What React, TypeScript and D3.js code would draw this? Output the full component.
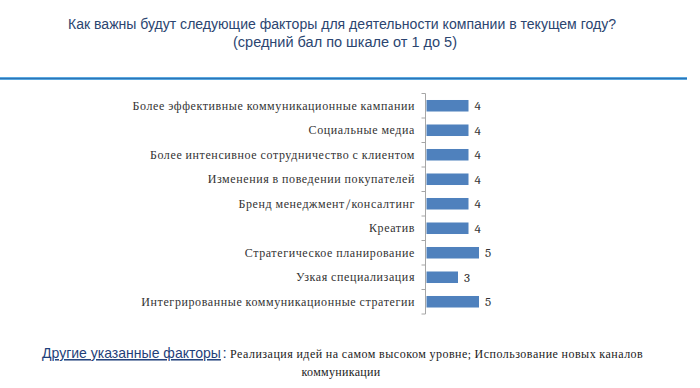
import React from "react";
import * as d3 from "d3";

const categories = [
  "Более эффективные коммуникационные кампании",
  "Социальные медиа",
  "Более интенсивное сотрудничество с клиентом",
  "Изменения в поведении покупателей",
  "Бренд менеджмент/консалтинг",
  "Креатив",
  "Стратегическое планирование",
  "Узкая специализация",
  "Интегрированные коммуникационные стратегии",
];
const values = [4, 4, 4, 4, 4, 4, 5, 3, 5];
const titleLines = [
  "Как важны будут следующие факторы для деятельности компании в текущем году?",
  "(средний бал по шкале от 1 до 5)",
];
const footnoteLead = "Другие указанные факторы";
const footnoteLines = [
  "Реализация идей на самом высоком уровне; Использование новых каналов",
  "коммуникации",
];

const W = 700;
const H = 388;
const axisX = 425.5;
const SERIF = "Cambria, 'Liberation Serif', 'DejaVu Serif', serif";
const NARROW = "'Liberation Sans', Arial, sans-serif";

export default function App() {
  const y = d3.scaleBand<string>().domain(categories).range([93.5, 314]).paddingInner(0.53).paddingOuter(0.265);
  const x = d3.scaleLinear().domain([0, 5]).range([axisX + 1, axisX + 1 + 52.5]);
  const step = y.step();
  const boundaries = d3.range(categories.length + 1).map((i) => 93.5 + i * step);

  return (
    <svg width={W} height={H} style={{ position: "absolute", left: 0, top: 0, background: "#fff" }}>
      <text x={68} y={29} fill="#2B4570" fontFamily={NARROW} fontSize={15.5} textLength={548} lengthAdjust="spacingAndGlyphs">
        {titleLines[0]}
      </text>
      <text x={233} y={47} fill="#2B4570" fontFamily={NARROW} fontSize={15.5} textLength={224} lengthAdjust="spacingAndGlyphs">
        {titleLines[1]}
      </text>
      <line x1={0} x2={687} y1={78.5} y2={78.5} stroke="#5AA8E0" strokeWidth={3} />
      <line x1={0} x2={687} y1={78.5} y2={78.5} stroke="#2E74B5" strokeWidth={1} />

      {/* axis */}
      <line x1={axisX} x2={axisX} y1={93.5} y2={314} stroke="#A6A6A6" strokeWidth={1} />
      {boundaries.map((b, i) => (
        <line key={i} x1={axisX - 4} x2={axisX} y1={b} y2={b} stroke="#A6A6A6" strokeWidth={1} />
      ))}

      {categories.map((c, i) => {
        const yc = (y(c) as number) + y.bandwidth() / 2;
        return (
          <g key={c}>
            <text x={415} y={yc + 4} textAnchor="end" fill="#333" fontFamily={SERIF} fontSize={12} letterSpacing={0.6}>
              {c}
            </text>
            <rect x={x(0)} y={y(c)} width={x(values[i]) - x(0)} height={y.bandwidth()} fill="#4F81BD" />
            <text x={x(values[i]) + 6} y={yc + 4.5} fill="#333" fontFamily={SERIF} fontSize={13}>
              {d3.format("d")(values[i])}
            </text>
          </g>
        );
      })}

      <g transform="translate(42,358) scale(0.935,1)">
        <text x={0} y={0} fill="#1F3F7A" fontFamily={NARROW} fontSize={15} textDecoration="underline">
          {footnoteLead}
        </text>
      </g>
      <text x={222.5} y={358} fontFamily={NARROW} fontSize={15} fill="#1F3F7A">:</text>
      <text x={230} y={358} fill="#222" fontFamily={SERIF} fontSize={12} letterSpacing={0.5}>
        {footnoteLines[0]}
      </text>
      <text x={341} y={376} textAnchor="middle" fill="#222" fontFamily={SERIF} fontSize={12} letterSpacing={0.3}>
        {footnoteLines[1]}
      </text>
    </svg>
  );
}
